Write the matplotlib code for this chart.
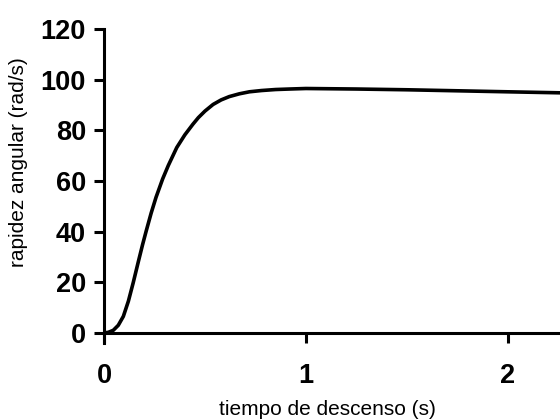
import matplotlib.pyplot as plt

plt.rcParams['font.family'] = ['Liberation Sans', 'DejaVu Sans']

# tiempo de descenso (s) vs rapidez angular (rad/s)
t = [0, 0.02, 0.045, 0.07, 0.095, 0.12, 0.144, 0.17, 0.19, 0.208, 0.233,
     0.257, 0.29, 0.318, 0.36, 0.40, 0.44, 0.467, 0.50, 0.54, 0.58,
     0.62, 0.67, 0.72, 0.78, 0.85, 0.92, 1.0, 1.25, 1.5, 1.75, 2.0, 2.26]
w = [0, 0.2, 1.0, 3.0, 6.5, 12.5, 19.8, 28.3, 34.7, 40.1, 47.3,
     53.5, 60.8, 66.1, 73.2, 78.2, 82.4, 85.0, 87.6, 90.2, 92.0,
     93.3, 94.4, 95.2, 95.7, 96.1, 96.3, 96.5, 96.3, 96.0, 95.6, 95.2, 94.8]

yticks = [0, 20, 40, 60, 80, 100, 120]
xticks = [0, 1, 2]

fig = plt.figure(figsize=(5.6, 4.2), dpi=100)
ax = fig.add_axes([0.186, 1 - 343 / 420, 1 - 0.186, (343 - 29) / 420])

ax.plot(t, w, color='black', lw=2.6, solid_capstyle='round',
        solid_joinstyle='round')

ax.set_xlim(0, 2.26)
ax.set_ylim(-4, 120)

for s in ['top', 'right']:
    ax.spines[s].set_visible(False)
ax.spines['bottom'].set_position(('data', 0))
ax.spines['left'].set_linewidth(2.2)
ax.spines['bottom'].set_linewidth(2.2)

ax.set_yticks(yticks)
ax.set_xticks(xticks)
ax.tick_params(axis='y', length=7, width=2.2, pad=6, labelsize=19.5)
ax.tick_params(axis='x', length=7, width=2.2, pad=15, labelsize=19.5)
for lab in ax.get_xticklabels() + ax.get_yticklabels():
    lab.set_fontweight('bold')

ax.set_ylabel('rapidez angular (rad/s)', fontsize=15)
ax.yaxis.set_label_coords(-0.167, 0.576)
ax.set_xlabel('tiempo de descenso (s)', fontsize=15)
ax.xaxis.set_label_coords(0.49, -0.18)

fig.savefig('out.png', dpi=100)
